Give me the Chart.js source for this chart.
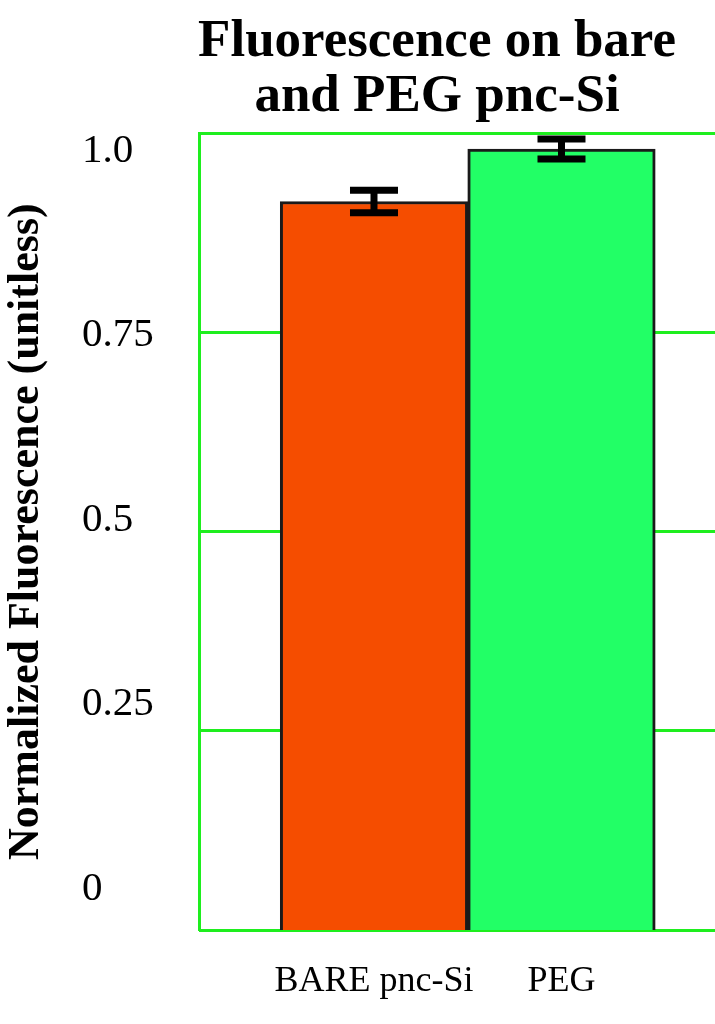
<!DOCTYPE html>
<html>
<head>
<meta charset="utf-8">
<script src="https://cdn.jsdelivr.net/npm/chart.js@4.4.1/dist/chart.umd.min.js"></script>
<style>
  html, body { margin:0; padding:0; background:#fff; overflow:hidden; }
  #wrap { width:874px; height:1024px; }
</style>
</head>
<body>
<div id="wrap"><canvas id="fluoChart" width="874" height="1024"></canvas></div>
<script>
// data
const categories = ["BARE pnc-Si", "PEG"];
const fluorescence = [0.932, 1.003];
const errors = [0.0152, 0.0136];
const barColors = ["#f54d00", "#22ff66"];
const yTicks = [0, 0.25, 0.5, 0.75, 1.0];
const yTickLabels = ["0", "0.25", "0.5", "0.75", "1.0"];
const gridTicks = [0, 0.25, 0.5, 0.75, 1.0];

// labelled axis is offset from the grid in the original figure
const Y_MIN = -0.0556, Y_MAX = 1.0244;
const serif = "'Liberation Serif', 'Times New Roman', serif";
const green = "#1eee1e";

const errorBars = {
  id: "errorBars",
  afterDatasetsDraw(chart){
    const ctx = chart.ctx;
    const meta = chart.getDatasetMeta(0);
    const ys = chart.scales.yl;
    ctx.save();
    ctx.strokeStyle = "#000";
    ctx.lineWidth = 7;
    meta.data.forEach((bar, i) => {
      const top = ys.getPixelForValue(fluorescence[i] + errors[i]);
      const bot = ys.getPixelForValue(fluorescence[i] - errors[i]);
      ctx.beginPath();
      ctx.moveTo(bar.x, top); ctx.lineTo(bar.x, bot);
      ctx.moveTo(bar.x - 24, top); ctx.lineTo(bar.x + 24, top);
      ctx.moveTo(bar.x - 24, bot); ctx.lineTo(bar.x + 24, bot);
      ctx.stroke();
    });
    ctx.restore();
  }
};

new Chart(document.getElementById("fluoChart"), {
  type: "bar",
  data: {
    datasets: [{
      data: categories.map((c, i) => ({ x: i + 1, y: fluorescence[i] })),
      backgroundColor: barColors,
      borderColor: "#1a1a1a",
      borderWidth: 3,
      base: Y_MIN,
      barPercentage: 1,
      categoryPercentage: 1,
      xAxisID: "x",
      yAxisID: "yl"
    }]
  },
  options: {
    responsive: false,
    animation: false,
    layout: { padding: 0 },
    plugins: {
      legend: { display: false },
      tooltip: { enabled: false },
      title: {
        display: true,
        text: ["Fluorescence on bare", "and PEG pnc-Si"],
        color: "#000",
        font: { family: serif, size: 53, weight: "bold", lineHeight: 1.05 },
        padding: { top: 14, bottom: 8 }
      }
    },
    scales: {
      x: {
        type: "linear",
        offset: false,
        min: 0.0667, max: 3.6667,
        grid: { display: false, offset: false },
        border: { display: false },
        afterBuildTicks: s => { s.ticks = categories.map((c, i) => ({ value: i + 1 })); },
        afterFit: s => { s.height = 94; },
        ticks: {
          padding: 22,
          color: "#000",
          font: { family: serif, size: 36 },
          callback: v => categories[v - 1]
        }
      },
      y: {
        position: "left",
        weight: 1,
        min: 0, max: 1,
        afterBuildTicks: s => { s.ticks = gridTicks.map(v => ({ value: v })); },
        afterFit: s => { s.width = 82; },
        ticks: { display: false },
        grid: { color: green, lineWidth: 3, drawTicks: false },
        border: { display: false },
        title: {
          display: true,
          text: "Normalized Fluorescence (unitless)",
          color: "#000",
          padding: 0,
          font: { family: serif, size: 44, weight: "bold" }
        }
      },
      yl: {
        position: "left",
        weight: 0,
        min: Y_MIN, max: Y_MAX,
        afterBuildTicks: s => { s.ticks = yTicks.map(v => ({ value: v })); },
        afterFit: s => { s.width = 117; },
        grid: { drawOnChartArea: false, drawTicks: false },
        border: { display: true, color: green, width: 3 },
        ticks: {
          crossAlign: "far",
          color: "#000",
          font: { family: serif, size: 41 },
          callback: v => yTickLabels[yTicks.indexOf(v)]
        }
      }
    }
  },
  plugins: [errorBars]
});
</script>
</body>
</html>
